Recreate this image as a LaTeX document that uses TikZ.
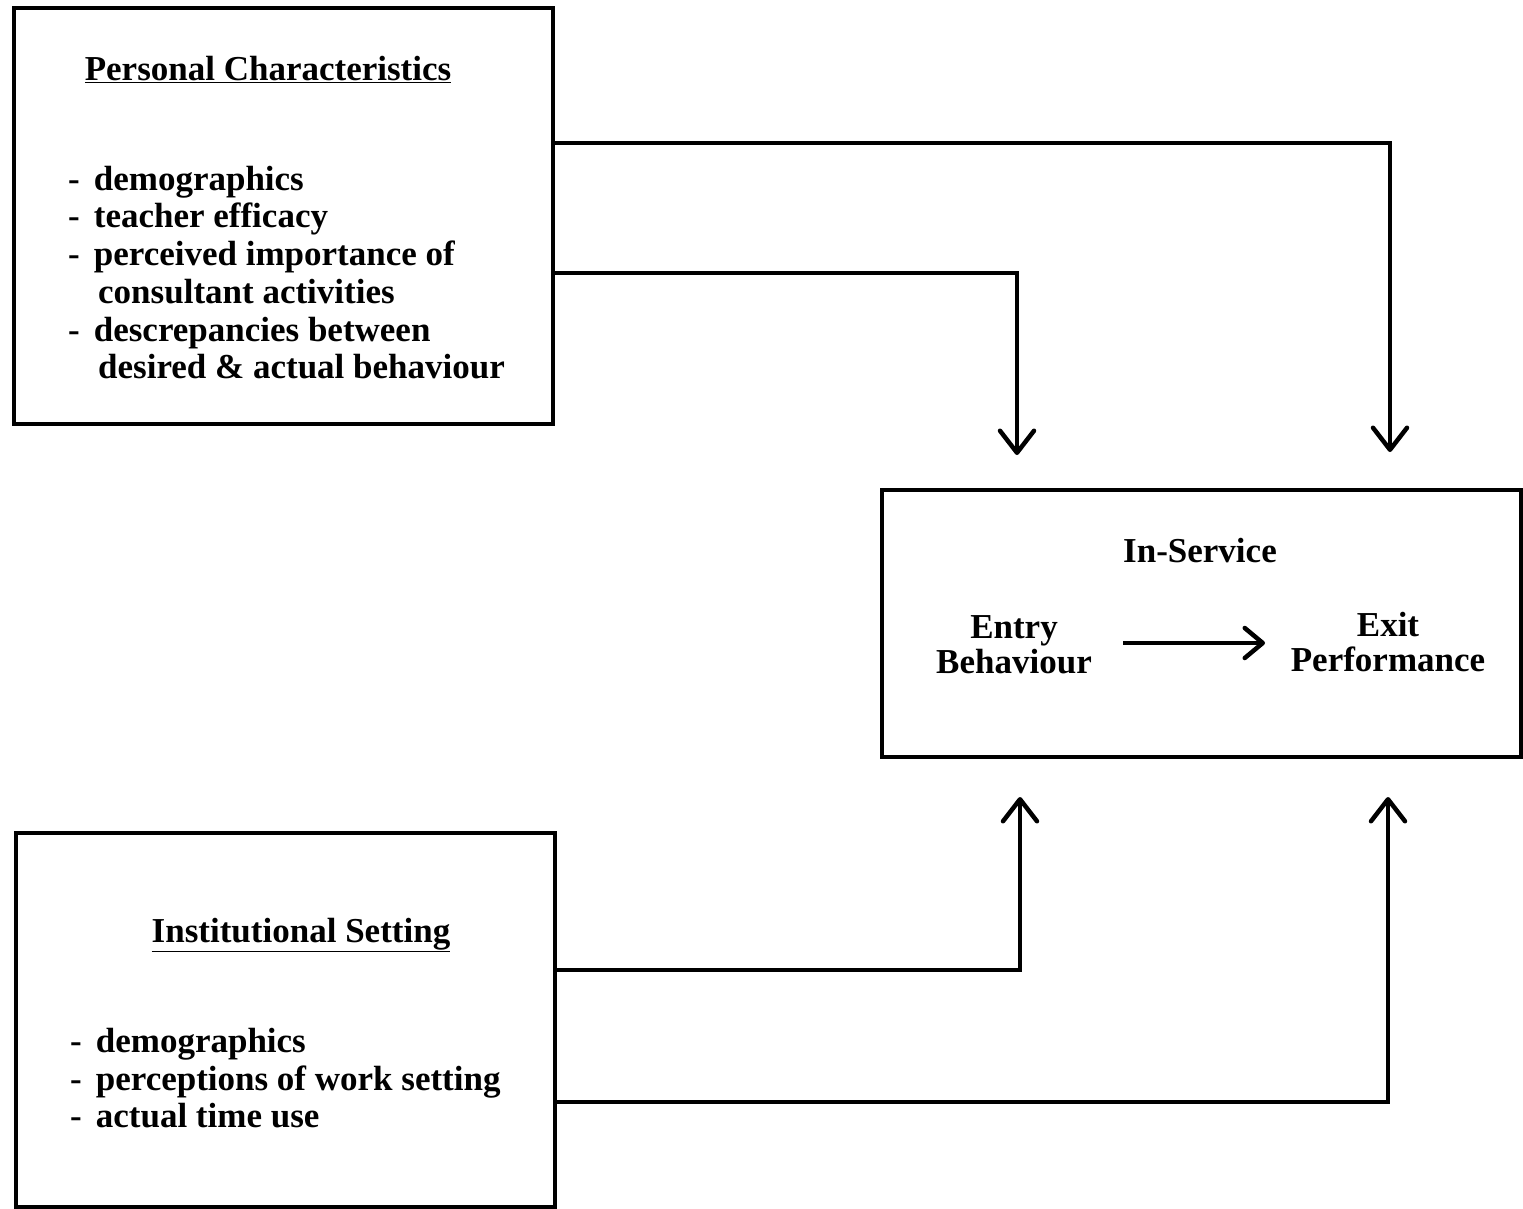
\documentclass[tikz,border=0pt]{standalone}
\usepackage{fontspec}
\setmainfont{Liberation Serif}
\usetikzlibrary{arrows.meta}
\newcommand{\dsh}{-\hspace{14pt}}
\begin{document}
\begin{tikzpicture}[x=1pt,y=-1pt,
  box/.style={draw,line width=4pt,minimum width=#1,inner sep=0pt},
  txt/.style={font=\fontsize{35}{40}\selectfont\bfseries,inner sep=0pt},
  conn/.style={line width=4pt,-{Straight Barb[length=22pt,width=34pt,line width=4.5pt,round]}},
  inner/.style={line width=4pt,-{Straight Barb[length=18pt,width=30pt,line width=4.5pt,round]}}]
\useasboundingbox (0,0) rectangle (1523,1208);
% boxes
\node[box=539pt,minimum height=416pt] (PC) at (283.5,216) {};
\node[box=639pt,minimum height=267pt] (IN) at (1201.5,623.5) {};
\node[box=539pt,minimum height=374pt] (IS) at (285.5,1020) {};
% Personal characteristics text
\node[txt,anchor=base] (pct) at (268,80) {\underline{Personal Characteristics}};
\node[txt,anchor=base west] (p1) at (68,190) {\dsh demographics};
\node[txt,anchor=base west] (p2) at (68,227) {\dsh teacher efficacy};
\node[txt,anchor=base west] (p3) at (68,265) {\dsh perceived importance of};
\node[txt,anchor=base west] (p4) at (98,303) {consultant activities};
\node[txt,anchor=base west] (p5) at (68,341) {\dsh descrepancies between};
\node[txt,anchor=base west] (p6) at (98,378) {desired \& actual behaviour};
% Institutional setting text
\node[txt,anchor=base] (ist) at (301,942) {\underline{Institutional Setting}};
\node[txt,anchor=base west] (i1) at (70,1052) {\dsh demographics};
\node[txt,anchor=base west] (i2) at (70,1090) {\dsh perceptions of work setting};
\node[txt,anchor=base west] (i3) at (70,1127) {\dsh actual time use};
% In-service text
\node[txt,anchor=base] (ins) at (1200,562) {In-Service};
\node[txt,anchor=base] (en1) at (1014,638) {Entry};
\node[txt,anchor=base] (en2) at (1014,673) {Behaviour};
\node[txt,anchor=base] (ex1) at (1388,636) {Exit};
\node[txt,anchor=base] (ex2) at (1388,671) {Performance};
% connectors
\coordinate (s1) at (PC.east |- 0,143);
\coordinate (t1) at (1390,452);
\coordinate (s2) at (PC.east |- 0,273);
\coordinate (t2) at (1017,455);
\coordinate (s3) at (IS.east |- 0,970);
\coordinate (t3) at (1020,797);
\coordinate (s4) at (IS.east |- 0,1102);
\coordinate (t4) at (1388,797);
\draw[conn] (s1) -| (t1);
\draw[conn] (s2) -| (t2);
\draw[conn] (s3) -| (t3);
\draw[conn] (s4) -| (t4);
\coordinate (a1) at (1123,643);
\coordinate (a2) at (1265,643);
\draw[inner] (a1) -- (a2);
\end{tikzpicture}
\end{document}
